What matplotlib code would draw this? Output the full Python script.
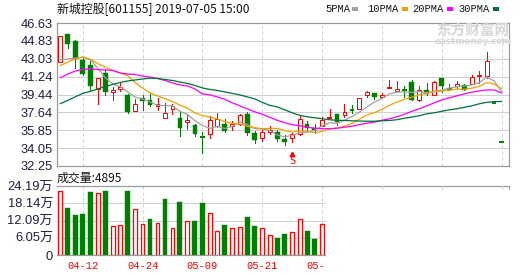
import matplotlib
matplotlib.use("Agg")
import matplotlib.pyplot as plt
from matplotlib.patches import Rectangle
from matplotlib.transforms import Bbox, blended_transform_factory

# ---- data (price in yuan, volume in 万 shares) ----
opens = [42.72, 45.49, 44.79, 42.88, 42.38, 40.04, 41.61, 39.71, 40.04, 39.44,
         37.80, 39.04, 38.87, 38.30, 37.10, 37.94, 37.10, 36.63, 36.33, 35.12,
         35.49, 36.23, 36.43, 36.30, 36.43, 37.50, 35.56, 35.09, 35.66, 35.66,
         34.99, 35.09, 35.49, 36.50, 36.10, 36.23, 37.05, 37.43, 37.40, 37.85,
         38.00, 39.34, 39.64, 39.17, 40.00, 39.84, 39.85, 40.74, 38.84, 39.94,
         39.40, 41.11, 40.00, 40.31, 40.44, 40.51, 41.31, 41.34, 38.57, 34.71]
closes = [45.32, 44.52, 43.05, 41.55, 40.31, 41.11, 39.71, 39.88, 40.21, 37.63,
          38.44, 38.80, 38.37, 38.50, 37.53, 38.24, 36.06, 36.83, 35.43, 35.06,
          36.83, 37.00, 35.76, 36.50, 37.33, 35.56, 34.83, 35.66, 35.83, 34.99,
          34.66, 35.49, 37.00, 36.10, 35.90, 36.90, 37.10, 36.66, 37.67, 37.80,
          39.10, 39.67, 39.17, 39.44, 40.11, 40.00, 39.80, 38.90, 39.91, 39.51,
          40.74, 40.34, 39.95, 40.51, 39.94, 41.24, 41.44, 42.85, 38.57, 34.71]
highs = [45.32, 45.56, 44.96, 43.12, 42.78, 41.11, 42.05, 40.21, 40.71, 39.51,
         38.97, 39.37, 39.61, 39.04, 38.54, 38.50, 37.67, 37.33, 36.43, 35.66,
         37.23, 37.57, 37.00, 36.73, 37.50, 37.67, 35.76, 35.99, 36.23, 35.89,
         35.33, 35.56, 37.23, 36.76, 36.43, 37.17, 38.00, 37.43, 38.44, 38.34,
         39.10, 39.77, 39.64, 39.57, 40.91, 40.84, 40.34, 40.94, 40.34, 40.57,
         40.84, 41.11, 40.51, 40.78, 40.51, 41.44, 41.78, 43.75, 38.57, 34.71]
lows = [42.72, 44.12, 42.15, 41.38, 39.94, 38.44, 39.37, 38.87, 39.77, 37.53,
        37.80, 37.87, 38.30, 37.87, 37.10, 37.50, 35.26, 35.99, 35.23, 33.56,
        35.09, 36.16, 35.66, 35.83, 36.33, 35.33, 34.56, 34.76, 35.43, 34.76,
        34.33, 34.66, 35.33, 35.83, 35.56, 36.23, 37.05, 36.33, 37.17, 37.57,
        38.00, 39.17, 38.97, 39.10, 40.00, 39.77, 39.17, 38.90, 38.77, 39.40,
        39.34, 39.67, 39.91, 40.11, 39.94, 40.51, 40.58, 41.11, 38.57, 34.71]

ma5 = [42.95, 43.00, 43.10, 43.20, 42.95, 42.11, 41.15, 40.51, 40.24, 39.71,
       39.17, 38.99, 38.69, 38.35, 38.33, 38.29, 37.74, 37.43, 36.82, 36.32,
       36.04, 36.23, 36.02, 36.23, 36.68, 36.43, 36.00, 35.98, 35.84, 35.37,
       35.19, 35.33, 35.59, 35.65, 35.83, 36.28, 36.60, 36.53, 36.85, 37.23,
       37.67, 38.18, 38.68, 39.04, 39.50, 39.68, 39.70, 39.65, 39.74, 39.62,
       39.77, 39.88, 40.09, 40.21, 40.30, 40.40, 40.62, 41.20, 40.81, 39.76]
ma10 = [42.35, 42.70, 43.00, 43.20, 43.00, 42.55, 42.20, 41.85, 41.60, 41.33,
        40.64, 40.07, 39.60, 39.30, 39.02, 38.73, 38.37, 38.06, 37.58, 37.33,
        37.17, 36.99, 36.72, 36.52, 36.50, 36.24, 36.11, 36.00, 36.04, 36.03,
        35.81, 35.66, 35.79, 35.75, 35.60, 35.74, 35.96, 36.06, 36.25, 36.53,
        36.97, 37.39, 37.61, 37.94, 38.36, 38.67, 38.94, 39.17, 39.39, 39.56,
        39.73, 39.79, 39.87, 39.98, 39.96, 40.08, 40.25, 40.64, 40.51, 40.03]
ma20 = [41.12, 41.50, 41.80, 41.95, 42.02, 41.95, 41.90, 41.87, 41.60, 41.50,
        41.45, 41.30, 41.20, 41.05, 40.85, 40.60, 40.40, 40.30, 40.00, 39.50,
        39.40, 39.20, 38.95, 38.60, 38.30, 38.00, 37.70, 37.45, 37.15, 36.85,
        36.60, 36.40, 36.30, 36.15, 36.05, 36.00, 36.00, 36.05, 36.15, 36.25,
        36.43, 36.55, 36.66, 36.85, 37.00, 37.20, 37.45, 37.75, 38.00, 38.30,
        38.60, 38.90, 39.10, 39.30, 39.50, 39.67, 39.80, 39.90, 39.90, 39.60]
ma30 = [38.52, 38.85, 39.20, 39.55, 39.75, 40.00, 40.25, 40.45, 40.65, 40.80,
        40.90, 41.00, 41.08, 41.05, 40.95, 40.85, 40.70, 40.55, 40.35, 40.10,
        39.95, 39.85, 39.70, 39.55, 39.40, 39.20, 39.00, 38.65, 38.35, 38.20,
        37.90, 37.60, 37.35, 37.20, 37.10, 37.00, 36.90, 36.85, 36.83, 36.80,
        36.77, 36.75, 36.75, 36.80, 36.83, 36.90, 37.05, 37.17, 37.30, 37.50,
        37.60, 37.75, 37.90, 38.00, 38.15, 38.30, 38.50, 38.65, 38.72, 38.74]

volume = [22.4, 16.4, 14.0, 14.4, 22.1, 21.6, 22.4, 10.1, 10.4, 22.4,
          16.0, 10.9, 12.5, 11.1, 19.6, 9.4, 18.6, 11.9, 11.9, 18.3,
          14.7, 8.4, 10.5, 9.4, 9.8, 13.3, 10.2, 9.4, 6.9, 6.0,
          7.5, 8.1, 12.5, 8.4, 5.6, 10.9]
vol_up = [1, 0, 0, 0, 0, 1, 0, 1, 1, 0,
          1, 1, 0, 1, 0, 1, 0, 1, 0, 0,
          1, 1, 0, 1, 1, 0, 0, 1, 1, 0,
          0, 1, 1, 0, 0, 1]

price_ticks = [32.25, 34.05, 35.85, 37.64, 39.44, 41.24, 43.03, 44.83, 46.63]
vol_ticks = [0, 6.05, 12.09, 18.14, 24.19]
vol_labels = ["0", "6.05万", "12.09万", "18.14万", "24.19万"]
date_pos = [3, 11, 19, 27, 35, 43, 51, 59]
date_labels = ["04-12", "04-24", "05-09", "05-21", "05-31"]

ma_names = ["5PMA", "10PMA", "20PMA", "30PMA"]
ma_colors = ["#a0a0a0", "#f0a000", "#ff00ff", "#00703a"]

RED = "#ff0000"
GREEN = "#008000"
GRID = "#d0d0d0"
FRAME = "#999999"
PX = 0.72  # one pixel in points at dpi 100

W, H = 530, 276
fig = plt.figure(figsize=(W / 100, H / 100), dpi=100)


def box(x0, y0, x1, y1):
    return [x0 / W, 1 - y1 / H, (x1 - x0) / W, (y1 - y0) / H]


ax = fig.add_axes(box(57, 23, 509, 166))
axv = fig.add_axes(box(57, 186, 325, 255))

# ---- price panel ----
ax.set_xlim(-0.44, 60.0)
ax.set_ylim(price_ticks[0], price_ticks[-1])
for p in price_ticks:
    ax.axhline(p, color=GRID, lw=PX, zorder=0)
for d in date_pos:
    ax.axvline(d, color=GRID, lw=PX, ls=(0, (3, 3)), zorder=0)

n = len(closes)
for i in range(n):
    o, c, h, l = opens[i], closes[i], highs[i], lows[i]
    up = c > o or (c == o and i > 0 and c >= closes[i - 1])
    if up:
        top, bot = max(o, c), min(o, c)
        if h > top:
            ax.plot([i, i], [top, h], color=RED, lw=PX, zorder=2)
        if l < bot:
            ax.plot([i, i], [l, bot], color=RED, lw=PX, zorder=2)
        if top - bot > 0.12:
            ax.add_patch(Rectangle((i - 0.26, bot), 0.52, top - bot, facecolor="white",
                                   edgecolor=RED, lw=PX, zorder=3))
        else:
            ax.plot([i - 0.3, i + 0.3], [top, top], color=RED, lw=1.4, zorder=3,
                    solid_capstyle="butt")
    else:
        ax.plot([i, i], [l, h], color=GREEN, lw=PX, zorder=2)
        if o - c > 0.12:
            ax.add_patch(Rectangle((i - 0.32, c), 0.64, o - c, facecolor=GREEN,
                                   edgecolor=GREEN, lw=0.3, zorder=3))
        else:
            ax.plot([i - 0.32, i + 0.32], [o, o], color=GREEN, lw=1.4, zorder=3,
                    solid_capstyle="butt")

xs = list(range(n))
for vals, col in zip([ma5, ma10, ma20, ma30], ma_colors):
    ax.plot(xs, vals, color=col, lw=0.9, zorder=4)

# signal marker under 05-23
ax.plot(31, 33.45, marker="^", ms=3.2, color=RED, clip_on=False, zorder=5)
ax.text(31, 32.72, "S", color=RED, ha="center", va="center", fontsize=7.5,
        family="DejaVu Sans Mono", clip_on=False)

ax.set_yticks(price_ticks)
ax.set_yticklabels([f"{p:.2f}" for p in price_ticks])
ax.set_xticks([])
ax.tick_params(axis="y", length=0, pad=3, labelsize=9.3, labelcolor="#1e1e46")
for lab in ax.get_yticklabels():
    lab.set_family("Liberation Sans")
for s in ax.spines.values():
    s.set_color(FRAME)
    s.set_linewidth(PX * 1.2)

# ---- volume panel ----
axv.set_xlim(-0.44, 35.4)
axv.set_ylim(0, vol_ticks[-1])
for v in vol_ticks[1:-1]:
    axv.axhline(v, color=GRID, lw=PX, zorder=0)
for d in date_pos[:5]:
    axv.axvline(d, color=GRID, lw=PX, ls=(0, (3, 3)), zorder=0)
for i, v in enumerate(volume):
    if vol_up[i]:
        axv.add_patch(Rectangle((i - 0.26, 0), 0.52, v, facecolor="white",
                                edgecolor=RED, lw=PX * 1.3, zorder=3))
    else:
        axv.add_patch(Rectangle((i - 0.33, 0), 0.66, v, facecolor=GREEN,
                                edgecolor=GREEN, lw=0.3, zorder=3))
axv.set_yticks(vol_ticks)
axv.set_yticklabels(vol_labels)
axv.set_xticks([])
axv.tick_params(axis="y", length=0, pad=3, labelsize=9.3, labelcolor="#1e1e46")
for lab in axv.get_yticklabels():
    lab.set_family(["Liberation Sans", "Noto Sans CJK SC"])
for side in ["top", "left", "right"]:
    axv.spines[side].set_visible(False)
axv.spines["bottom"].set_color(FRAME)
axv.spines["bottom"].set_linewidth(PX * 1.2)

# top rule of the volume panel runs the full width
fig.add_artist(plt.Line2D([57 / W, 509 / W], [1 - 186 / H] * 2, color=FRAME,
                          lw=PX * 1.2, transform=fig.transFigure))
tr = blended_transform_factory(ax.transData, fig.transFigure)
for d in date_pos[5:]:
    fig.add_artist(plt.Line2D([d, d], [1 - 186 / H, 1 - 189 / H], color=GRID,
                              lw=PX, transform=tr))
fig.add_artist(plt.Line2D([509 / W] * 2, [1 - 186 / H, 1 - 189 / H], color=FRAME,
                          lw=PX, transform=fig.transFigure))

# date labels, the last one cut at the panel edge
trv = blended_transform_factory(axv.transData, fig.transFigure)
clip = Bbox.from_extents(0, 0, 325, H)
for d, lab in zip(date_pos, date_labels):
    t = axv.text(d, 1 - 266 / H, lab, transform=trv, color=RED, ha="center",
                 va="center", fontsize=7.5, family="Liberation Mono")
    t.set_clip_on(True)
    t.set_clip_box(clip)

# ---- header texts ----
cjk = ["Noto Sans CJK SC", "DejaVu Sans"]
fig.text(57 / W, 1 - 9.5 / H, "新城控股[601155] 2019-07-05 15:00", fontsize=8.6,
         family=cjk, va="center", ha="left", color="#111111")
fig.text(57 / W, 1 - 178 / H, "成交量:4895", fontsize=8.6, family=cjk,
         va="center", ha="left", color="#111111")

leg_text_x = [325, 367, 412, 458]
leg_box_x = [352, 402, 447, 493]
for name, col, tx, bx in zip(ma_names, ma_colors, leg_text_x, leg_box_x):
    fig.text(tx / W, 1 - 9.5 / H, name, fontsize=7.5, family="Liberation Mono",
             va="center", ha="left", color="#111111")
    fig.add_artist(Rectangle((bx / W, 1 - 11 / H), 6 / W, 4 / H, facecolor=col,
                             edgecolor="none", transform=fig.transFigure))

# watermark
fig.text(473 / W, 1 - 31 / H, "东方财富网", fontsize=10.5, family=cjk,
         weight="bold", color="#d6d6d6", ha="center", va="center", zorder=1)
fig.text(473 / W, 1 - 42 / H, "eastmoney.com", fontsize=6.3, family="DejaVu Sans",
         weight="bold", color="#d6d6d6", ha="center", va="center", zorder=1)

fig.savefig("out.png", dpi=100)
